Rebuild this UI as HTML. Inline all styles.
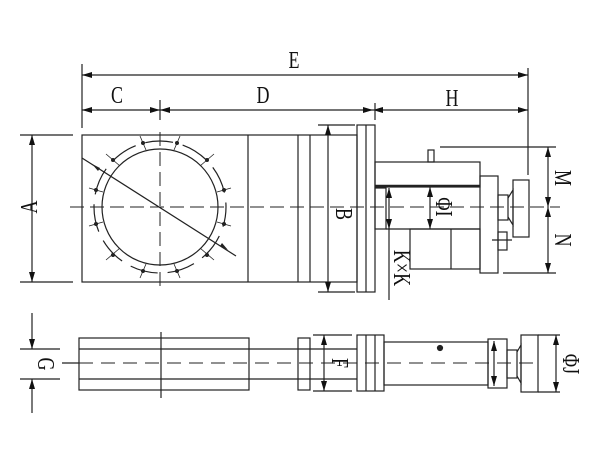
<!DOCTYPE html>
<html><head><style>body{margin:0;background:#fff}svg{display:block}text{font-family:"Liberation Serif",serif;font-size:24px;fill:#111}</style></head><body>
<svg width="600" height="450" viewBox="0 0 600 450" xmlns="http://www.w3.org/2000/svg">
<defs><marker id="a" viewBox="0 0 10 6" refX="10" refY="3" markerWidth="10" markerHeight="6" orient="auto-start-reverse" markerUnits="userSpaceOnUse"><path d="M0,0L10,3L0,6z" fill="#111"/></marker></defs>
<g stroke="#222" stroke-width="1.2" fill="none">
<line x1="82" y1="64" x2="82" y2="128"/>
<line x1="528" y1="68" x2="528" y2="175"/>
<line x1="82" y1="75" x2="528" y2="75" marker-start="url(#a)" marker-end="url(#a)"/>
<line x1="82" y1="110" x2="160" y2="110" marker-start="url(#a)" marker-end="url(#a)"/>
<line x1="160" y1="110" x2="373" y2="110" marker-start="url(#a)" marker-end="url(#a)"/>
<line x1="373" y1="110" x2="528" y2="110" marker-start="url(#a)" marker-end="url(#a)"/>
<line x1="160" y1="100" x2="160" y2="120"/>
<line x1="375" y1="103" x2="375" y2="120"/>
<line x1="20" y1="135" x2="73" y2="135"/><line x1="20" y1="282" x2="73" y2="282"/>
<line x1="32" y1="135" x2="32" y2="282" marker-start="url(#a)" marker-end="url(#a)"/>
<rect x="82" y="135" width="275" height="147"/>
<line x1="248" y1="135" x2="248" y2="282"/><line x1="298" y1="135" x2="298" y2="282"/><line x1="310" y1="135" x2="310" y2="282"/>
<rect x="357" y="125" width="18" height="167"/><line x1="366" y1="125" x2="366" y2="292"/>
<line x1="318" y1="125" x2="355" y2="125"/><line x1="318" y1="292" x2="355" y2="292"/>
<line x1="328" y1="125" x2="328" y2="292" marker-start="url(#a)" marker-end="url(#a)"/>
<circle cx="160" cy="207" r="58"/>
<circle cx="160" cy="207" r="66" stroke-dasharray="28 10" stroke-dashoffset="8"/>
<line x1="160" y1="132" x2="160" y2="290" stroke-dasharray="14 6" stroke-width="1"/>
<line x1="70" y1="207" x2="560" y2="207" stroke-dasharray="14 6" stroke-width="1"/>
<line x1="82" y1="158" x2="236" y2="256"/>
<g stroke-width="0.8">
<line x1="140" y1="136" x2="146" y2="150"/><line x1="180" y1="136" x2="174" y2="150"/>
<line x1="106" y1="154" x2="120" y2="166"/><line x1="214" y1="154" x2="200" y2="166"/>
<line x1="89" y1="188" x2="103" y2="192"/><line x1="231" y1="188" x2="217" y2="192"/>
<line x1="89" y1="226" x2="103" y2="222"/><line x1="231" y1="226" x2="217" y2="222"/>
<line x1="106" y1="260" x2="120" y2="248"/><line x1="214" y1="260" x2="200" y2="248"/>
<line x1="140" y1="278" x2="146" y2="264"/><line x1="180" y1="278" x2="174" y2="264"/>
</g>
<g fill="#222" stroke="none">
<circle cx="143" cy="143" r="2"/><circle cx="177" cy="143" r="2"/><circle cx="113" cy="160" r="2"/><circle cx="207" cy="160" r="2"/><circle cx="96" cy="190" r="2"/><circle cx="224" cy="190" r="2"/><circle cx="96" cy="224" r="2"/><circle cx="224" cy="224" r="2"/><circle cx="113" cy="255" r="2"/><circle cx="207" cy="255" r="2"/><circle cx="143" cy="271" r="2"/><circle cx="177" cy="271" r="2"/>
<path d="M92,164l8,4l-2,3z M228,250l-8,-4l2,-3z"/>
</g>
<rect x="375" y="162" width="105" height="25"/><line x1="375" y1="186" x2="480" y2="186" stroke-width="2.5"/>
<rect x="428" y="150" width="6" height="12"/>
<line x1="440" y1="147" x2="556" y2="147"/>
<rect x="375" y="188" width="11" height="41"/>
<line x1="386" y1="229" x2="480" y2="229"/>
<rect x="410" y="229" width="70" height="40"/><line x1="451" y1="229" x2="451" y2="269"/>
<rect x="480" y="176" width="18" height="97"/>
<rect x="498" y="195" width="10" height="25"/><path d="M508,198L513,190L513,225L508,217"/>
<rect x="513" y="180" width="16" height="57"/>
<rect x="498" y="232" width="9" height="18"/><line x1="492" y1="240" x2="512" y2="240"/>
<line x1="503" y1="273" x2="556" y2="273"/>
<line x1="548" y1="147" x2="548" y2="207" marker-start="url(#a)" marker-end="url(#a)"/>
<line x1="548" y1="207" x2="548" y2="273" marker-start="url(#a)" marker-end="url(#a)"/>
<line x1="430" y1="187" x2="430" y2="229" marker-start="url(#a)" marker-end="url(#a)"/>
<line x1="389" y1="188" x2="389" y2="229" marker-start="url(#a)" marker-end="url(#a)"/>
<line x1="389" y1="229" x2="389" y2="300"/>
<line x1="20" y1="349" x2="60" y2="349"/><line x1="20" y1="379" x2="60" y2="379"/>
<line x1="32" y1="313" x2="32" y2="349" marker-end="url(#a)"/>
<line x1="32" y1="413" x2="32" y2="379" marker-end="url(#a)"/>
<line x1="62" y1="363" x2="79" y2="363"/>
<line x1="79" y1="363" x2="540" y2="363" stroke-dasharray="14 8" stroke-width="1"/>
<rect x="79" y="338" width="170" height="52"/>
<line x1="79" y1="349" x2="357" y2="349"/><line x1="79" y1="379" x2="357" y2="379"/>
<line x1="161" y1="332" x2="161" y2="398"/>
<rect x="298" y="338" width="12" height="52"/>
<line x1="313" y1="335" x2="352" y2="335"/><line x1="313" y1="391" x2="352" y2="391"/>
<line x1="324" y1="335" x2="324" y2="391" marker-start="url(#a)" marker-end="url(#a)"/>
<rect x="357" y="335" width="27" height="56"/><line x1="366" y1="335" x2="366" y2="391"/><line x1="375" y1="335" x2="375" y2="391"/>
<rect x="384" y="342" width="104" height="43"/>
<circle cx="440" cy="348" r="2.5" fill="#222"/>
<rect x="488" y="339" width="19" height="49"/>
<line x1="494" y1="341" x2="494" y2="386" marker-start="url(#a)" marker-end="url(#a)"/>
<rect x="507" y="350" width="10" height="28"/><path d="M517,352L521,345L521,383L517,376"/>
<rect x="521" y="335" width="17" height="57"/>
<line x1="538" y1="335" x2="560" y2="335"/><line x1="538" y1="392" x2="560" y2="392"/>
<line x1="556" y1="335" x2="556" y2="392" marker-start="url(#a)" marker-end="url(#a)"/>
</g>
<g>
<text transform="translate(294,68) scale(0.75,1)" text-anchor="middle">E</text>
<text transform="translate(117,103) scale(0.75,1)" text-anchor="middle">C</text>
<text transform="translate(263,103) scale(0.75,1)" text-anchor="middle">D</text>
<text transform="translate(452,106) scale(0.75,1)" text-anchor="middle">H</text>
<text transform="translate(37,207) rotate(-90) scale(0.75,1)" text-anchor="middle">A</text>
<text transform="translate(336,214) rotate(90) scale(0.75,1)" text-anchor="middle">B</text>
<text transform="translate(555,178) rotate(90) scale(0.75,1)" text-anchor="middle">M</text>
<text transform="translate(555,240) rotate(90) scale(0.75,1)" text-anchor="middle">N</text>
<text transform="translate(436,207) rotate(90) scale(0.75,1)" text-anchor="middle">ΦI</text>
<text transform="translate(394,268) rotate(90) scale(0.75,1)" text-anchor="middle">K×K</text>
<text transform="translate(38,364) rotate(90) scale(0.75,1)" text-anchor="middle">G</text>
<text transform="translate(332,363) rotate(90) scale(0.75,1)" text-anchor="middle">F</text>
<text transform="translate(563,364) rotate(90) scale(0.75,1)" text-anchor="middle">ΦJ</text>
</g>
</svg>
</body></html>
